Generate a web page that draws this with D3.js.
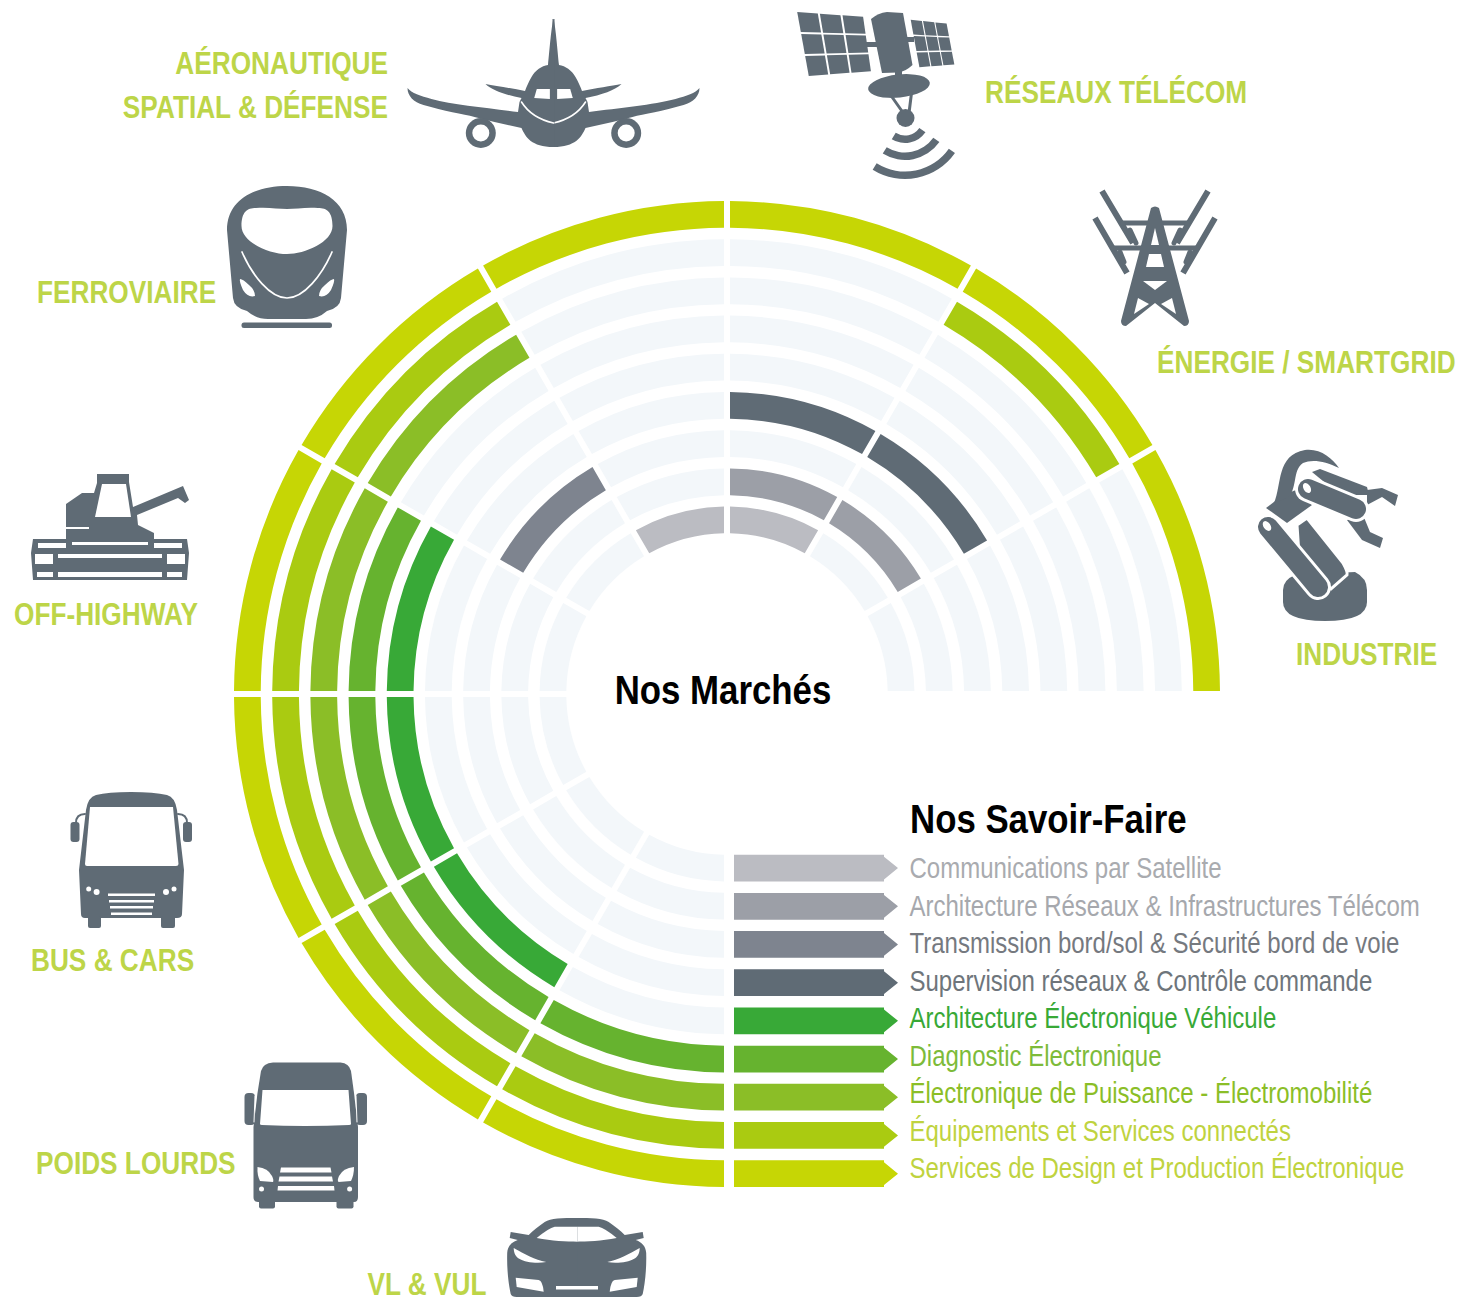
<!DOCTYPE html>
<html>
<head>
<meta charset="utf-8">
<script src="https://cdn.jsdelivr.net/npm/d3@7"></script>
<style>
html, body { margin: 0; padding: 0; background: #fff; }
svg { display: block; }
text { font-family: "Liberation Sans", sans-serif; }
</style>
</head>
<body>
<script>
// clockwise from the bottom of the wheel
var markets = ["VL & VUL", "POIDS LOURDS", "BUS & CARS", "OFF-HIGHWAY", "FERROVIAIRE",
               "AÉRONAUTIQUE|SPATIAL & DÉFENSE", "RÉSEAUX TÉLÉCOM", "ÉNERGIE / SMARTGRID", "INDUSTRIE"];

// outer ring first
var skills = ["Services de Design et Production Électronique",
              "Équipements et Services connectés",
              "Électronique de Puissance - Électromobilité",
              "Diagnostic Électronique",
              "Architecture Électronique Véhicule",
              "Supervision réseaux & Contrôle commande",
              "Transmission bord/sol & Sécurité bord de voie",
              "Architecture Réseaux & Infrastructures Télécom",
              "Communications par Satellite"];

// one row per skill, one column per market
var designServed    = [1, 1, 1, 1, 1, 1, 1, 1, 1];
var equipServed     = [1, 1, 1, 1, 1, 0, 0, 1, 0];
var powerServed     = [1, 1, 1, 1, 1, 0, 0, 0, 0];
var diagServed      = [1, 1, 1, 1, 0, 0, 0, 0, 0];
var archiServed     = [0, 1, 1, 1, 0, 0, 0, 0, 0];
var superServed     = [0, 0, 0, 0, 0, 0, 1, 1, 0];
var transServed     = [0, 0, 0, 0, 1, 0, 0, 0, 0];
var networkServed   = [0, 0, 0, 0, 0, 0, 1, 1, 0];
var satServed       = [0, 0, 0, 0, 0, 1, 1, 0, 0];
var served = [designServed, equipServed, powerServed, diagServed, archiServed,
              superServed, transServed, networkServed, satServed];

var ringColors = ["#c6d605", "#aacb11", "#8bbe27", "#66b32f", "#38a937",
                  "#5f6b75", "#7e848f", "#9c9fa7", "#bbbcc2"];
var textColors = ["#bfd33f", "#bfd33f", "#8bbe27", "#7dbb3a", "#38a937",
                  "#6e757b", "#75797f", "#a6a8ad", "#a9abaf"];

var width = 1460, height = 1299;
var cx = 727, cy = 694;
var dark = "#5f6b75", emptyColor = "#f3f7fa", labelColor = "#bdd548";

var svg = d3.select("body").append("svg")
    .attr("width", width)
    .attr("height", height);

var angle = d3.scaleBand()
    .domain(markets)
    .range([-Math.PI, Math.PI / 2]);

var ring = d3.scaleBand()
    .domain(skills)
    .range([493, 160.7])
    .paddingInner(0.3);

var arc = d3.arc()
    .padRadius(493)
    .padAngle(6 / 493);

var wheel = svg.append("g").attr("transform", "translate(" + cx + "," + cy + ")");

skills.forEach(function(skill, i) {
    wheel.selectAll(".r" + i)
        .data(markets)
        .enter().append("path")
        .attr("class", "r" + i)
        .attr("d", function(m) {
            return arc({
                innerRadius: ring(skill),
                outerRadius: ring(skill) + ring.bandwidth(),
                startAngle: angle(m),
                endAngle: angle(m) + angle.bandwidth()
            });
        })
        .attr("fill", function(m, j) { return served[i][j] ? ringColors[i] : emptyColor; });
});

// no narrow face installed, so squeeze the plain one
function narrow(parent, str, x, y, size, k, bold, anchor, color) {
    return parent.append("text")
        .attr("transform", "translate(" + x + "," + y + ") scale(" + k + ",1)")
        .attr("text-anchor", anchor || "start")
        .attr("font-size", size)
        .attr("font-weight", bold ? "bold" : "normal")
        .attr("fill", color || "#000")
        .text(str);
}

// legend arrows sit on the same lines as the bottom of the rings
var legend = svg.selectAll(".legend")
    .data(skills)
    .enter().append("path")
    .attr("class", "legend")
    .attr("transform", function(d) { return "translate(734," + (cy + ring(d)) + ")"; })
    .attr("d", function() {
        var b = ring.bandwidth();
        return "M0,0H150V2L164," + (b / 2) + "L150," + (b - 2) + "V" + b + "H0Z";
    })
    .attr("fill", function(d, i) { return ringColors[i]; });

var legendY = d3.scalePoint()
    .domain(skills)
    .range([1178, 878]);

skills.forEach(function(skill, i) {
    narrow(svg, skill, 909.5, legendY(skill), 30, 0.8, false, "start", textColors[i]);
});

narrow(svg, "Nos Marchés", 723, 704, 40, 0.87, true, "middle");
narrow(svg, "Nos Savoir-Faire", 910, 833, 40, 0.87, true);

// market labels
var labelPos = [
    {x: 367.5, y: 1295, anchor: "start"},
    {x: 36, y: 1174, anchor: "start"},
    {x: 31, y: 971, anchor: "start"},
    {x: 14, y: 625, anchor: "start"},
    {x: 37, y: 303, anchor: "start"},
    {x: 388, y: 74, anchor: "end"},
    {x: 985, y: 103, anchor: "start"},
    {x: 1157, y: 373, anchor: "start"},
    {x: 1296, y: 665, anchor: "start"}
];
markets.forEach(function(m, i) {
    m.split("|").forEach(function(line, k) {
        narrow(svg, line, labelPos[i].x, labelPos[i].y + k * 44, 31, 0.846, true, labelPos[i].anchor, labelColor);
    });
});

// icons
var root = svg.append("g");
var icons = root;

function shape(d, fill) {
    return icons.append("path").attr("d", d).attr("fill", fill || dark);
}
function stroke(d, w, color) {
    return icons.append("path").attr("d", d).attr("fill", "none")
        .attr("stroke", color || dark).attr("stroke-width", w).attr("stroke-linecap", "round");
}
function box(x0, y0, x1, y1, fill, r) {
    return icons.append("rect").attr("x", x0).attr("y", y0)
        .attr("width", x1 - x0).attr("height", y1 - y0)
        .attr("rx", r || 0).attr("fill", fill || dark);
}
function dot(x, y, r, fill) {
    return icons.append("circle").attr("cx", x).attr("cy", y).attr("r", r).attr("fill", fill || dark);
}

// plane, right half then mirrored
[1, -1].forEach(function(s) {
    icons = root.append("g").attr("transform", "translate(553.5,0) scale(" + s + ",1)");
    shape("M-1,147L-1,19L0,19C2,25 4,50 5.5,65C12,66 18,70 22,77C25,82 27,87 28.5,91C42,88 58,86 68,84C62,90 48,95 32,98L34,102L35.5,112C65,108 100,105 122,99C133,96 142,93 146,88C146,96 140,102 130,105C110,111 90,114 79,117L59,122L32,128C28,137 22,147 0,147Z");
    dot(72.7, 133, 15);
    dot(72.7, 133, 8.5, "#fff");
    shape("M3.6,89L16.7,89L19.3,98L3.6,99Z", "#fff");
    stroke("M32,102Q22,118 0,123", 1.6, "#fff");
});
icons = root;

// satellite
function panel(tl, tr, br, bl, cols) {
    var gap = 0.03;
    var lerp = function(a, b, t) { return [a[0] + (b[0] - a[0]) * t, a[1] + (b[1] - a[1]) * t]; };
    var at = function(u, v) { return lerp(lerp(tl, tr, u), lerp(bl, br, u), v); };
    d3.range(cols).forEach(function(c) {
        d3.range(3).forEach(function(r) {
            var u0 = c / cols + gap / 2, u1 = (c + 1) / cols - gap / 2;
            var v0 = r / 3 + gap / 2, v1 = (r + 1) / 3 - gap / 2;
            shape("M" + [at(u0, v0), at(u1, v0), at(u1, v1), at(u0, v1)].join("L") + "Z");
        });
    });
}
panel([796, 11], [864, 16], [872, 72], [808, 77], 3);
panel([910, 19], [947, 23], [955, 65], [919, 68], 3);
box(864, 42, 878, 47);
box(905, 37, 914, 42);
shape("M871,19Q878,13 887,12L903,13L912.5,65Q905,72 898,72.5L882,73Z");
box(895, 71, 902, 78);
icons.append("ellipse").attr("cx", 899).attr("cy", 86).attr("rx", 31).attr("ry", 11.5)
    .attr("transform", "rotate(-6 899 86)").attr("fill", dark);
stroke("M892,97L904,114", 3);
stroke("M911.5,93L909,113", 3);
dot(905.5, 118, 9);
var waveArc = d3.arc().startAngle(125 * Math.PI / 180).endAngle(212 * Math.PI / 180);
[25, 42, 61].forEach(function(r) {
    shape(waveArc({innerRadius: r - 7.5, outerRadius: r})).attr("transform", "translate(905,118)");
});

// train
shape("M287,186C320,186 347,200 347,230L341,298Q340,308 327,311Q318,319 306,319L268,319Q256,319 247,311Q234,308 233,298L227,230C227,200 254,186 287,186Z");
shape("M241.5,226C241.5,212 247,208 256,208C268,207 278,209 287,209C296,209 306,207 318,208C327,208 332.5,212 332.5,226C332.5,242 305,254 287,254C269,254 241.5,242 241.5,226Z", "#fff");
stroke("M242,252C252,275 270,298 287,298C304,298 322,275 332,252", 1.7, "#fff");
shape("M240,279Q239,281 243,290Q248,298 255,296Q255,290 249,285Q243,279 240,279Z", "#fff");
shape("M334,279Q335,281 331,290Q326,298 319,296Q319,290 325,285Q331,279 334,279Z", "#fff");
box(241.5, 322.5, 332, 328, dark, 2.5);

// pylon
stroke("M1102,191L1133,243M1208,191L1177,243M1095,218L1127,273M1215,218L1183,273", 6).attr("stroke-linecap", "butt");
stroke("M1123,223H1187M1113,248H1197", 5);
stroke("M1130,230L1136,243M1180,230L1174,243M1120,252L1124,262M1190,252L1186,262", 5);
shape("M1151,208Q1155,205 1159,208L1189,321Q1189,326 1184,326L1155,303L1126,326Q1121,326 1121,321Z");
shape("M1155,228L1159,245H1151Z", "#fff");
shape("M1149,254H1161L1164,267H1146Z", "#fff");
shape("M1143,281H1167L1155,290Z", "#fff");
shape("M1138,298L1149,304L1134,314Z", "#fff");
shape("M1172,298L1161,304L1176,314Z", "#fff");

// robot arm
shape("M1283,590L1283,602Q1283,621 1325,621Q1367,621 1367,602L1367,590Q1367,578 1355,572L1295,575Q1283,580 1283,590Z");
shape("M1297,525L1307,518L1343,563Q1348,572 1347,575L1331,589L1300,570Z")
    .attr("stroke", "#fff").attr("stroke-width", 3);
stroke("M1268,527L1318,587", 26, "#fff");
stroke("M1268,527L1318,587", 20);
icons.append("ellipse").attr("cx", 1267).attr("cy", 526).attr("rx", 3.5).attr("ry", 5.5)
    .attr("transform", "rotate(-35 1267 526)").attr("fill", "#fff");
shape("M1266,508L1283,495L1296,490L1312,505L1287,523Z");
shape("M1274,503C1282,485 1276,455 1305,450C1320,448 1332,458 1339,468C1325,461 1312,459 1303,463C1292,470 1298,490 1287,498Z");
shape("M1367,490L1382,488L1398,495L1395,506L1382,497L1367,505Z");
shape("M1347,520L1363,515L1370,532L1383,538L1380,548L1362,540Z");
shape("M1312,472L1320,469L1367,487L1369,495L1340,495Z");
stroke("M1308,489L1356,509", 26, "#fff");
stroke("M1308,489L1356,509", 20);
icons.append("ellipse").attr("cx", 1307).attr("cy", 488).attr("rx", 3.5).attr("ry", 5.5)
    .attr("transform", "rotate(-30 1307 488)").attr("fill", "#fff");

// harvester
shape("M33,580L187,580L189,553L187,539L154,539L154,533L138,525L137,515L178,498L185,503L189,500L183,486L133,507L129,482L129,474L97,474L97,483L94,493L82,493L66,504L66,539L33,539L31,553Z");
shape("M102,484L126,484L131,517L95,517Z", "#fff");
box(66, 527, 89, 529, "#fff");
box(38, 543, 66, 548, "#fff");
box(154, 543, 182, 548, "#fff");
box(72, 542, 148, 545, "#fff");
box(35, 554, 53, 564, "#fff");
box(167, 554, 185, 564, "#fff");
box(58, 554, 162, 558, "#fff");
box(37, 572, 53, 577, "#fff");
box(58, 572, 162, 577, "#fff");
box(167, 572, 182, 577, "#fff");

// bus
shape("M131,792Q108,792 96,795Q88,797 86,810L79,870L81,914Q81,918 85,918H177Q182,918 182,914L184,870L177,810Q175,797 167,795Q154,792 131,792Z");
shape("M90,807H173L178.5,864Q178.5,866 176,866H87Q85,866 85,864Z", "#fff");
box(70.5, 822, 79.5, 842, dark, 3);
box(183, 822, 192, 842, dark, 3);
stroke("M76,823Q76,814 85,814M187,823Q187,814 178,814", 2);
box(88, 916, 101, 928, dark, 2);
box(161, 916, 175, 928, dark, 2);
[[88.7, 889, 2.5], [96.6, 892, 3], [166, 892, 3], [174, 889, 2.5]].forEach(function(c) { dot(c[0], c[1], c[2], "#fff"); });
box(108, 893.5, 155, 896, "#fff");
box(109, 900, 154, 902.5, "#fff");
box(110, 906, 153, 908.5, "#fff");
box(111, 912.5, 152, 915, "#fff");

// truck
shape("M273,1062.5H340.5Q349,1063 351,1071L354,1093L358,1127L358,1197Q358,1202 354,1202H258Q253.5,1202 253.5,1197L253.5,1127L257.5,1093L261,1071Q263,1063 273,1062.5Z");
shape("M262.5,1090H348.5L351,1124Q351,1125 349,1125Q305,1127 262,1125Q260,1125 260,1124Z", "#fff");
box(244.5, 1093, 255, 1125, dark, 4);
box(356, 1093, 367, 1125, dark, 4);
stroke("M255,1096L254,1122M356,1096L357,1122", 1, "#fff");
box(259, 1200, 275, 1208.5, dark, 2);
box(336.5, 1200, 353.5, 1208.5, dark, 2);
shape("M257.5,1167Q268,1168 272,1176Q274,1180 273,1182L260,1181Q257,1175 257.5,1167Z", "#fff");
shape("M354,1167Q343,1168 339,1176Q337,1180 338.5,1182L351,1181Q354,1175 354,1167Z", "#fff");
shape("M281,1167.5H330.5L331.5,1172.5H280Z", "#fff");
shape("M279.5,1176.5H332L333,1181.5H278.5Z", "#fff");
shape("M278,1186H334L334.5,1190.5H277.5Z", "#fff");
dot(261.5, 1189, 2.5, "#fff");
dot(349.6, 1189, 2.5, "#fff");

// car, mirrored as well
[1, -1].forEach(function(s) {
    icons = root.append("g").attr("transform", "translate(576.7,0) scale(" + s + ",1)");
    shape("M-1,1297L-1,1218C15,1218 26,1218 32,1222C38,1226 44,1231 48,1235L66,1232L67,1238L59,1240C65,1242 69,1246 69.5,1253C70,1270 68,1285 66,1294Q65,1297 60,1297Z");
    shape("M-1,1226.7L22,1226.7Q28,1228 40,1238C25,1241 10,1241.5 -1,1241.7Z", "#fff");
    shape("M63,1248C52,1254 42,1260 30.5,1262C40,1264 52,1262 57,1259C61,1257 63,1253 63,1248Z", "#fff");
    shape("M61,1277.7L38,1280Q34,1281 33,1291.7L60,1287Z", "#fff");
});
icons = root;
box(556, 1286, 598, 1289.5, "#fff");
</script>
</body>
</html>
